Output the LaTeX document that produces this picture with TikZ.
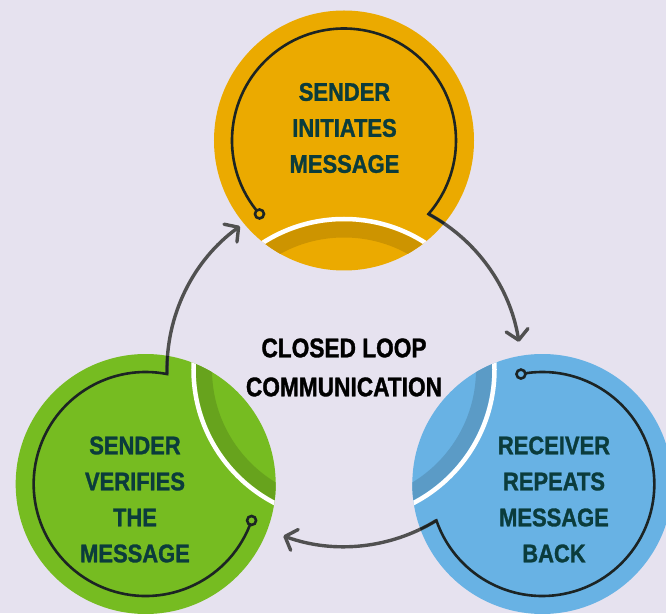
\documentclass[tikz,border=0pt]{standalone}
\usepackage{fontspec}
\setmainfont{Liberation Sans}
\newfontfamily\stepfont{Liberation Sans}[FakeStretch=0.86, FakeBold=1.2]
\newfontfamily\loopfont{Liberation Sans}[FakeStretch=0.84, FakeBold=1.2]
\usetikzlibrary{arrows.meta}

\definecolor{bgcol}{HTML}{E6E2EF}
\definecolor{sendfill}{HTML}{EBAA00}
\definecolor{recvfill}{HTML}{68B2E4}
\definecolor{verifill}{HTML}{76BC21}
\definecolor{labelcol}{HTML}{0B3C3C}
\definecolor{trackcol}{HTML}{1C2424}
\definecolor{arrowcol}{HTML}{505050}

\tikzset{
  stepdisc/.style={circle, minimum size=260pt, inner sep=0pt},
  steplabel/.style={text=labelcol, align=center,
    font=\stepfont\bfseries\fontsize{25.5}{36}\selectfont},
  looplabel/.style={text=black, align=center,
    font=\loopfont\bfseries\fontsize{27}{39}\selectfont},
  trackline/.style={draw=trackcol, line width=2.6pt},
  feedback/.style={draw=arrowcol, line width=3.4pt,
    -{Straight Barb[length=10pt, width=22pt, round]}},
}

\begin{document}
\begin{tikzpicture}[x=1pt,y=1pt]
    \fill[bgcol] (-344,-243.5) rectangle (322,369.5);
    \useasboundingbox (-344,-243.5) rectangle (322,369.5);
    % discs, each cut by the inner ring
    \foreach \ang/\col/\name in {90/sendfill/init, -30/recvfill/repeat, 210/verifill/check}{
        \node[stepdisc, fill=\col] (\name) at (\ang:229) {};
        \begin{scope}
            \clip (\name.center) circle[radius=130pt];
            \draw[\col!87!black, line width=16pt] (0,0) circle[radius=140pt];
            \draw[white, line width=4.5pt] (0,0) circle[radius=150.5pt];
        \end{scope}
    }
    % tracks and arrows between the steps
    \foreach \ang/\col/\name/\stop in {90/sendfill/init/81, -30/recvfill/repeat/80, 210/verifill/check/84}{
        \path (\name.center) ++(\ang+131:112pt) coordinate (\name-ring);
        \path (\name.center) ++(\ang-131:112pt) coordinate (\name-turn);
        \draw[feedback] (\name-turn) arc[start angle=\ang-28.5, end angle=\ang-\stop, radius=177pt];
        \begin{scope}
            \clip (\name.center) circle[radius=130pt];
            \draw[trackline] (\name-ring)
                arc[start angle=\ang+131, end angle=\ang-131, radius=112pt]
                arc[start angle=\ang-28.5, end angle=\ang-55, radius=177pt];
        \end{scope}
        \draw[trackline, fill=\col] (\name-ring) circle[radius=4.5pt];
    }
    \node[steplabel] (init-text) at (0.5,241.5) {SENDER\\INITIATES\\MESSAGE};
    \node[steplabel] (repeat-text) at (210,-130) {RECEIVER\\REPEATS\\MESSAGE\\BACK};
    \node[steplabel] (check-text) at (-209,-130) {SENDER\\VERIFIES\\THE\\MESSAGE};
    \node[looplabel] (title) at (0,2) {CLOSED LOOP\\COMMUNICATION};
\end{tikzpicture}
\end{document}
